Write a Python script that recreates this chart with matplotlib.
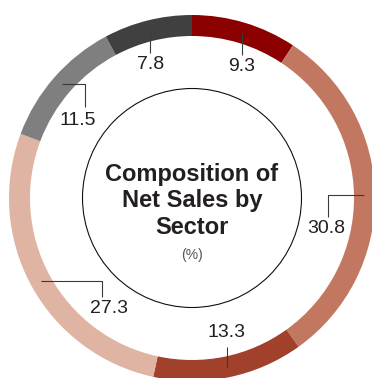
import numpy as np
import matplotlib.pyplot as plt

plt.rcParams['font.family'] = ['Liberation Sans', 'DejaVu Sans']

# share of net sales per sector, clockwise from 12 o'clock (%)
shares = [9.3, 30.8, 13.3, 27.3, 11.5, 7.8]
labels = ['9.3', '30.8', '13.3', '27.3', '11.5', '7.8']
colors = ['#8b0000', '#c27761', '#a1402b', '#e0b4a2', '#7f7f7f', '#404040']

title = 'Composition of\nNet Sales by\nSector'
unit = '(%)'

# leader line legs (dx, dy in px) from the ring and text offset from the line end
legs = [
    [(0, -22)],
    [(-36, 0), (0, -22)],
    [(0, 20)],
    [(61, 0), (0, -16)],
    [(23, 0), (0, -23)],
    [(0, -22)],
]
text_off = [(0, -12), (-2, -12), (0, 14), (7, -12), (-7, -13.5), (0, -12)]

W, H = 372, 378
cx, cy = 192, 180
R, ring_w = 183, 21
txt_col = '#231f20'

fig = plt.figure(figsize=(W / 100, H / 100), dpi=100)
ax = fig.add_axes([0, 0, 1, 1])

ax.pie(shares, colors=colors, startangle=90, counterclock=False,
       center=(cx, cy), radius=R,
       wedgeprops=dict(width=ring_w, linewidth=0))

# inner circle with the title
ax.add_patch(plt.Circle((cx, cy), 109.5, fill=False, ec='#111111', lw=0.8))
ax.text(cx, 177, title, ha='center', va='center', fontsize=17,
        fontweight='bold', color=txt_col, linespacing=1.22)
ax.text(cx, 123, unit, ha='center', va='center', fontsize=10, color='#555555')

# leader lines start at the middle of each segment on the ring centre line
r_mid = R - ring_w / 2
ends = np.cumsum(shares)
starts = ends - np.array(shares)
for i, lab in enumerate(labels):
    mid = (starts[i] + ends[i]) / 2
    ang = np.deg2rad(90 - mid / sum(shares) * 360)
    xs = [cx + r_mid * np.cos(ang)]
    ys = [cy + r_mid * np.sin(ang)]
    for dx, dy in legs[i]:
        xs.append(xs[-1] + dx)
        ys.append(ys[-1] + dy)
    ax.plot(xs, ys, color='#3a3a3a', lw=0.8, solid_capstyle='butt')
    ax.text(xs[-1] + text_off[i][0], ys[-1] + text_off[i][1], lab,
            ha='center', va='center', fontsize=14, color=txt_col)

ax.set_xlim(0, W)
ax.set_ylim(0, H)
ax.set_aspect('auto')
ax.axis('off')

fig.savefig('out.png', dpi=100, facecolor='white')
